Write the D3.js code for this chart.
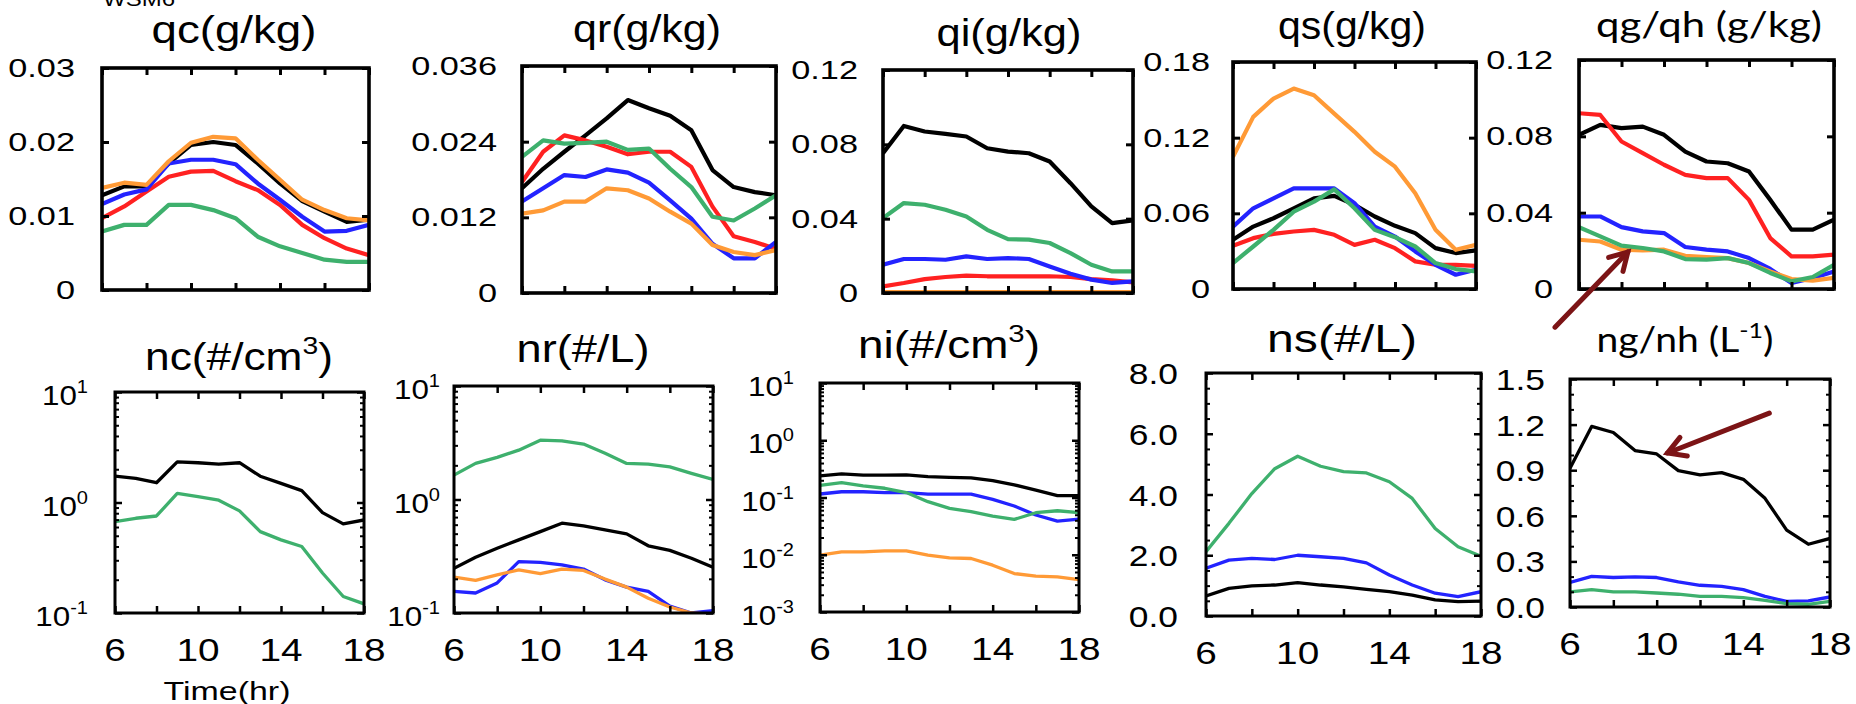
<!DOCTYPE html>
<html>
<head>
<meta charset="utf-8">
<script src="https://cdn.jsdelivr.net/npm/d3@7"></script>
<style>
  body { margin: 0; background: #fff; }
  svg { display: block; }
</style>
</head>
<body>
<svg id="chart" width="1856" height="704"></svg>
<script>
// ---- data ----
const hours = [6, 7, 8, 9, 10, 11, 12, 13, 14, 15, 16, 17, 18];
const xTicks = [6, 8, 10, 12, 14, 16, 18];
const xTickLabels = [6, 10, 14, 18];

const qc = {
    black:  [0.0128, 0.0140, 0.0140, 0.0171, 0.0196, 0.0200, 0.0196, 0.0171, 0.0144, 0.0120, 0.0106, 0.0092, 0.0095],
    red:    [0.0097, 0.0113, 0.0133, 0.0153, 0.0160, 0.0161, 0.0147, 0.0135, 0.0115, 0.0088, 0.0070, 0.0056, 0.0047],
    blue:   [0.0116, 0.0129, 0.0136, 0.0171, 0.0176, 0.0176, 0.0170, 0.0144, 0.0122, 0.0099, 0.0079, 0.0080, 0.0088],
    orange: [0.0138, 0.0145, 0.0142, 0.0174, 0.0199, 0.0207, 0.0205, 0.0176, 0.0149, 0.0122, 0.0108, 0.0097, 0.0094],
    green:  [0.0079, 0.0088, 0.0088, 0.0115, 0.0115, 0.0108, 0.0097, 0.0072, 0.0059, 0.0050, 0.0041, 0.0038, 0.0038]
};
const qr = {
    black:  [0.0166, 0.0197, 0.0224, 0.0250, 0.0277, 0.0306, 0.0293, 0.0281, 0.0258, 0.0195, 0.0168, 0.0160, 0.0155],
    red:    [0.0176, 0.0224, 0.0250, 0.0242, 0.0232, 0.0220, 0.0224, 0.0224, 0.0200, 0.0137, 0.0090, 0.0081, 0.0070],
    blue:   [0.0145, 0.0166, 0.0187, 0.0184, 0.0196, 0.0191, 0.0175, 0.0147, 0.0118, 0.0078, 0.0055, 0.0055, 0.0081],
    orange: [0.0126, 0.0131, 0.0145, 0.0145, 0.0166, 0.0163, 0.0150, 0.0129, 0.0110, 0.0076, 0.0065, 0.0060, 0.0068],
    green:  [0.0216, 0.0242, 0.0237, 0.0238, 0.0240, 0.0227, 0.0229, 0.0197, 0.0168, 0.0121, 0.0115, 0.0134, 0.0155]
};
const qi = {
    black:  [0.0752, 0.0899, 0.0869, 0.0856, 0.0842, 0.0779, 0.0761, 0.0752, 0.0708, 0.0591, 0.0466, 0.0376, 0.0391],
    red:    [0.0036, 0.0054, 0.0075, 0.0086, 0.0093, 0.0090, 0.0090, 0.0090, 0.0090, 0.0086, 0.0075, 0.0068, 0.0057],
    blue:   [0.0152, 0.0183, 0.0183, 0.0179, 0.0197, 0.0183, 0.0188, 0.0183, 0.0143, 0.0104, 0.0072, 0.0054, 0.0063],
    orange: [0.0005, 0.0005, 0.0005, 0.0005, 0.0005, 0.0005, 0.0005, 0.0005, 0.0005, 0.0005, 0.0005, 0.0005, 0.0005],
    green:  [0.0403, 0.0484, 0.0475, 0.0448, 0.0412, 0.0340, 0.0290, 0.0287, 0.0269, 0.0215, 0.0152, 0.0116, 0.0116]
};
const qs = {
    black:  [0.0390, 0.0495, 0.0561, 0.0640, 0.0719, 0.0738, 0.0667, 0.0575, 0.0501, 0.0443, 0.0324, 0.0285, 0.0306],
    red:    [0.0343, 0.0403, 0.0437, 0.0456, 0.0469, 0.0430, 0.0350, 0.0390, 0.0324, 0.0219, 0.0192, 0.0192, 0.0184],
    blue:   [0.0495, 0.0640, 0.0719, 0.0798, 0.0798, 0.0798, 0.0680, 0.0495, 0.0416, 0.0298, 0.0192, 0.0113, 0.0153],
    orange: [0.1049, 0.1365, 0.1510, 0.1589, 0.1536, 0.1391, 0.1246, 0.1088, 0.0970, 0.0759, 0.0469, 0.0311, 0.0350],
    green:  [0.0206, 0.0337, 0.0469, 0.0614, 0.0693, 0.0790, 0.0640, 0.0469, 0.0411, 0.0337, 0.0206, 0.0158, 0.0140]
};
const qg = {
    black:  [0.0808, 0.0860, 0.0843, 0.0851, 0.0808, 0.0720, 0.0668, 0.0659, 0.0616, 0.0467, 0.0311, 0.0311, 0.0363],
    red:    [0.0921, 0.0912, 0.0773, 0.0712, 0.0651, 0.0598, 0.0581, 0.0581, 0.0467, 0.0267, 0.0171, 0.0171, 0.0180],
    blue:   [0.0380, 0.0380, 0.0324, 0.0302, 0.0293, 0.0220, 0.0206, 0.0197, 0.0162, 0.0105, 0.0031, 0.0058, 0.0092],
    orange: [0.0258, 0.0249, 0.0206, 0.0202, 0.0206, 0.0174, 0.0167, 0.0162, 0.0136, 0.0092, 0.0052, 0.0044, 0.0058],
    green:  [0.0324, 0.0276, 0.0227, 0.0215, 0.0197, 0.0157, 0.0154, 0.0162, 0.0136, 0.0084, 0.0040, 0.0063, 0.0127]
};
const nc = {
    black: [1.73, 1.65, 1.51, 2.33, 2.29, 2.22, 2.29, 1.73, 1.49, 1.28, 0.81, 0.64, 0.695],
    green: [0.671, 0.72, 0.755, 1.21, 1.13, 1.05, 0.84, 0.545, 0.459, 0.40, 0.23, 0.141, 0.121]
};
const nr = {
    black:  [0.248, 0.310, 0.372, 0.441, 0.521, 0.618, 0.585, 0.539, 0.498, 0.391, 0.356, 0.304, 0.253],
    blue:   [0.155, 0.150, 0.184, 0.284, 0.279, 0.266, 0.244, 0.196, 0.169, 0.155, 0.115, 0.100, 0.105],
    orange: [0.207, 0.194, 0.217, 0.240, 0.222, 0.244, 0.237, 0.199, 0.169, 0.135, 0.113, 0.100, 0.097],
    green:  [1.64, 2.08, 2.35, 2.72, 3.33, 3.29, 3.08, 2.55, 2.08, 2.05, 1.94, 1.70, 1.50]
};
const ni = {
    black:  [0.238, 0.258, 0.245, 0.245, 0.248, 0.232, 0.225, 0.220, 0.197, 0.166, 0.135, 0.108, 0.108],
    blue:   [0.115, 0.126, 0.126, 0.122, 0.122, 0.115, 0.115, 0.115, 0.093, 0.071, 0.0494, 0.0387, 0.042],
    orange: [0.00984, 0.01125, 0.01125, 0.0117, 0.0117, 0.00984, 0.00883, 0.0086, 0.00657, 0.0047, 0.00422, 0.0041, 0.00368],
    green:  [0.163, 0.182, 0.159, 0.145, 0.122, 0.0846, 0.0646, 0.0565, 0.0474, 0.0414, 0.0542, 0.0587, 0.0542]
};
const ns = {
    black: [0.66, 0.91, 0.99, 1.02, 1.10, 1.02, 0.96, 0.88, 0.80, 0.69, 0.53, 0.47, 0.49],
    blue:  [1.57, 1.84, 1.90, 1.86, 2.00, 1.95, 1.90, 1.75, 1.35, 1.02, 0.75, 0.64, 0.80],
    green: [2.12, 3.05, 4.03, 4.85, 5.26, 4.93, 4.75, 4.71, 4.42, 3.87, 2.88, 2.28, 1.97]
};
const ng = {
    black: [0.913, 1.188, 1.148, 1.029, 1.007, 0.897, 0.869, 0.884, 0.840, 0.715, 0.506, 0.413, 0.451],
    blue:  [0.161, 0.202, 0.194, 0.198, 0.194, 0.165, 0.143, 0.136, 0.114, 0.070, 0.037, 0.040, 0.066],
    green: [0.099, 0.114, 0.099, 0.099, 0.092, 0.084, 0.070, 0.070, 0.062, 0.044, 0.022, 0.018, 0.037]
};

const qcTicks = [0, 0.01, 0.02, 0.03];
const qcTickLabels = ["0", "0.01", "0.02", "0.03"];
const qrTicks = [0, 0.012, 0.024, 0.036];
const qrTickLabels = ["0", "0.012", "0.024", "0.036"];
const qiTicks = [0, 0.04, 0.08, 0.12];
const qiTickLabels = ["0", "0.04", "0.08", "0.12"];
const qsTicks = [0, 0.06, 0.12, 0.18];
const qsTickLabels = ["0", "0.06", "0.12", "0.18"];
const qgTicks = [0, 0.04, 0.08, 0.12];
const qgTickLabels = ["0", "0.04", "0.08", "0.12"];
const nsTicks = [0, 2, 4, 6, 8];
const nsTickLabels = ["0.0", "2.0", "4.0", "6.0", "8.0"];
const ngTicks = [0, 0.3, 0.6, 0.9, 1.2, 1.5];
const ngTickLabels = ["0.0", "0.3", "0.6", "0.9", "1.2", "1.5"];

// annotation arrows, [tail, tip] in (hour, value) of their panel
const arrowQg = [[4.87, -0.020], [8.3, 0.0194]];
const arrowNg = [[15.2, 1.276], [10.5, 1.013]];

// ---- styling / layout ----
const colors = {
    black: "#000000",
    red: "#ff2121",
    blue: "#2323ff",
    orange: "#ff9a36",
    green: "#3eb06d"
};
const drawOrder = ["black", "red", "blue", "orange", "green"];
const SANS = "'Liberation Sans', Arial, Helvetica, sans-serif";
const CALI = "Lato, 'Open Sans', sans-serif";

const panels = [
    { id: "qc", data: qc, row: 0, x0: 102, x1: 369, y0: 68, y1: 290, domain: [0, 0.03],
      ticks: qcTicks, tickLabels: qcTickLabels, labelRight: 75,
      title: [["qc(g/kg)"]], tx: 234, ty: 43, tw: 165 },
    { id: "qr", data: qr, row: 0, x0: 522, x1: 776, y0: 66, y1: 293, domain: [0, 0.036],
      ticks: qrTicks, tickLabels: qrTickLabels, labelRight: 497,
      title: [["qr(g/kg)"]], tx: 647, ty: 42, tw: 148 },
    { id: "qi", data: qi, row: 0, x0: 883, x1: 1133, y0: 70, y1: 293, domain: [0, 0.12],
      ticks: qiTicks, tickLabels: qiTickLabels, labelRight: 858,
      title: [["qi(g/kg)"]], tx: 1009, ty: 46, tw: 145 },
    { id: "qs", data: qs, row: 0, x0: 1233, x1: 1476, y0: 62, y1: 289, domain: [0, 0.18],
      ticks: qsTicks, tickLabels: qsTickLabels, labelRight: 1210,
      title: [["qs(g/kg)"]], tx: 1352, ty: 39, tw: 148 },
    { id: "qg", data: qg, row: 0, x0: 1579, x1: 1834, y0: 60, y1: 289, domain: [0, 0.12],
      ticks: qgTicks, tickLabels: qgTickLabels, labelRight: 1553,
      title: [["qg/qh (g/kg)"]], tx: 1709, ty: 37, tw: 226, titleFont: CALI, titleSize: 35 },
    { id: "nc", data: nc, row: 1, log: true, x0: 115, x1: 364, y0: 392, y1: 613, domain: [0.1, 10],
      labelRight: 88, title: [["nc(#/cm"], ["3", true], [")"]], tx: 239, ty: 370, tw: 188 },
    { id: "nr", data: nr, row: 1, log: true, x0: 454, x1: 713, y0: 386, y1: 613, domain: [0.1, 10],
      labelRight: 440, title: [["nr(#/L)"]], tx: 583, ty: 362, tw: 133 },
    { id: "ni", data: ni, row: 1, log: true, x0: 820, x1: 1079, y0: 383, y1: 612, domain: [0.001, 10],
      labelRight: 794, title: [["ni(#/cm"], ["3", true], [")"]], tx: 949, ty: 358, tw: 182 },
    { id: "ns", data: ns, row: 1, x0: 1206, x1: 1481, y0: 373, y1: 616, domain: [0, 8],
      ticks: nsTicks, tickLabels: nsTickLabels, minor: 16, labelRight: 1178,
      title: [["ns(#/L)"]], tx: 1342, ty: 352, tw: 150 },
    { id: "ng", data: ng, row: 1, x0: 1570, x1: 1830, y0: 379, y1: 607, domain: [0, 1.5],
      ticks: ngTicks, tickLabels: ngTickLabels, minor: 15, labelRight: 1545,
      title: [["ng/nh (L"], ["-1", true], [")"]], tx: 1685, ty: 352, tw: 177, titleFont: CALI, titleSize: 34 }
];

const svg = d3.select("#chart");
const defs = svg.append("defs");

// text with optional superscripts; sx stretches horizontally, width fits exactly
function addText(parent, x, y, parts, o) {
    const t = parent.append("text")
        .attr("text-anchor", o.anchor || "middle")
        .style("font-family", o.font || SANS)
        .style("font-size", o.size + "px")
        .attr("fill", "#000");
    let raised = false;
    parts.forEach(([s, sup]) => {
        const ts = t.append("tspan").text(s);
        if (sup && !raised) {
            ts.attr("dy", -o.size * 0.42).style("font-size", (o.size * 0.64) + "px");
            raised = true;
        } else if (sup) {
            ts.style("font-size", (o.size * 0.64) + "px");
        } else if (raised) {
            ts.attr("dy", o.size * 0.42);
            raised = false;
        }
    });
    let sx = o.sx || 1;
    if (o.width) sx = o.width / t.node().getBBox().width;
    t.attr("transform", `translate(${x},${y}) scale(${sx},1)`);
    return t;
}

function styleAxis(sel, w) {
    sel.select(".domain").remove();
    sel.selectAll(".tick line").attr("stroke", "#000").attr("stroke-width", w);
}

function drawPanel(p) {
    const top = p.row === 0;
    const g = svg.append("g").attr("class", "panel-" + p.id);

    const x = d3.scaleLinear().domain([6, 18]).range([p.x0, p.x1]);
    const y = (p.log ? d3.scaleLog() : d3.scaleLinear())
        .domain(p.domain)
        .range([p.y1, p.y0]);

    defs.append("clipPath").attr("id", "clip-" + p.id)
        .append("rect")
        .attr("x", p.x0).attr("y", p.y0)
        .attr("width", p.x1 - p.x0).attr("height", p.y1 - p.y0);

    const line = d3.line()
        .x((d, i) => x(hours[i]))
        .y(d => y(d));

    const lines = g.append("g").attr("clip-path", `url(#clip-${p.id})`);
    drawOrder.filter(k => p.data[k]).forEach(k => {
        lines.append("path")
            .attr("d", line(p.data[k]))
            .attr("fill", "none")
            .attr("stroke", colors[k])
            .attr("stroke-width", top ? 4.2 : 3.3)
            .attr("stroke-linejoin", "round");
    });

    // inward ticks on all four sides
    const major = 7, minorLen = 4, tw = top ? 3 : 2.5;
    g.append("g").attr("transform", `translate(0,${p.y1})`)
        .call(d3.axisBottom(x).tickValues(xTicks).tickSize(-major).tickFormat(""))
        .call(s => styleAxis(s, tw));
    g.append("g").attr("transform", `translate(0,${p.y0})`)
        .call(d3.axisTop(x).tickValues(xTicks).tickSize(-major).tickFormat(""))
        .call(s => styleAxis(s, tw));

    let yMajor, yMinor = [];
    if (p.log) {
        const all = y.ticks();
        yMajor = all.filter(v => Math.abs(Math.log10(v) - Math.round(Math.log10(v))) < 1e-9);
        yMinor = all.filter(v => !yMajor.includes(v));
    } else {
        yMajor = p.ticks;
        if (p.minor) yMinor = y.ticks(p.minor).filter(v => !yMajor.some(m => Math.abs(m - v) < 1e-9));
    }
    [[d3.axisLeft, p.x0], [d3.axisRight, p.x1]].forEach(([ax, pos]) => {
        g.append("g").attr("transform", `translate(${pos},0)`)
            .call(ax(y).tickValues(yMajor).tickSize(-major).tickFormat(""))
            .call(s => styleAxis(s, tw));
        if (yMinor.length) {
            g.append("g").attr("transform", `translate(${pos},0)`)
                .call(ax(y).tickValues(yMinor).tickSize(-minorLen).tickFormat(""))
                .call(s => styleAxis(s, 2));
        }
    });

    g.append("rect")
        .attr("x", p.x0).attr("y", p.y0)
        .attr("width", p.x1 - p.x0).attr("height", p.y1 - p.y0)
        .attr("fill", "none")
        .attr("stroke", "#000")
        .attr("stroke-width", top ? 3.6 : 3);

    // y tick labels
    if (p.log) {
        yMajor.forEach(v => {
            const e = Math.round(Math.log10(v));
            addText(g, p.labelRight, y(v) + 13, [["10"], [String(e), true]],
                { size: 28, anchor: "end", sx: 1.12 });
        });
    } else {
        p.ticks.forEach((v, i) => {
            addText(g, p.labelRight, y(v) + (top ? 9 : 11), [[p.tickLabels[i]]],
                { size: top ? 26 : 29, anchor: "end", sx: top ? 1.32 : 1.22 });
        });
    }

    // x tick labels only on the bottom row
    if (!top) {
        xTickLabels.forEach(v => {
            addText(g, x(v), p.y1 + 48, [[String(v)]], { size: 31, sx: 1.25 });
        });
    }

    addText(g, p.tx, p.ty, p.title,
        { size: p.titleSize || 38, font: p.titleFont || SANS, width: p.tw });

    return { x, y };
}

const scales = {};
panels.forEach(p => { scales[p.id] = drawPanel(p); });

addText(svg, 227, 700, [["Time(hr)"]], { size: 26, width: 127 });
addText(svg, 139, 6, [["WSM6"]], { size: 20, width: 72 });

function drawArrow(sc, pts) {
    const [t0, t1] = pts;
    const ax = sc.x(t0[0]), ay = sc.y(t0[1]);
    const bx = sc.x(t1[0]), by = sc.y(t1[1]);
    const ang = Math.atan2(by - ay, bx - ax);
    const head = 20, spread = Math.PI / 6;
    const h1 = [bx - head * Math.cos(ang - spread), by - head * Math.sin(ang - spread)];
    const h2 = [bx - head * Math.cos(ang + spread), by - head * Math.sin(ang + spread)];
    const grp = svg.append("g")
        .attr("stroke", "#7c1416")
        .attr("stroke-width", 5)
        .attr("fill", "none")
        .attr("stroke-linecap", "round")
        .attr("stroke-linejoin", "miter");
    grp.append("line").attr("x1", ax).attr("y1", ay).attr("x2", bx).attr("y2", by);
    grp.append("path").attr("d", d3.line()([h1, [bx, by], h2]));
}

drawArrow(scales.qg, arrowQg);
drawArrow(scales.ng, arrowNg);
</script>
</body>
</html>
